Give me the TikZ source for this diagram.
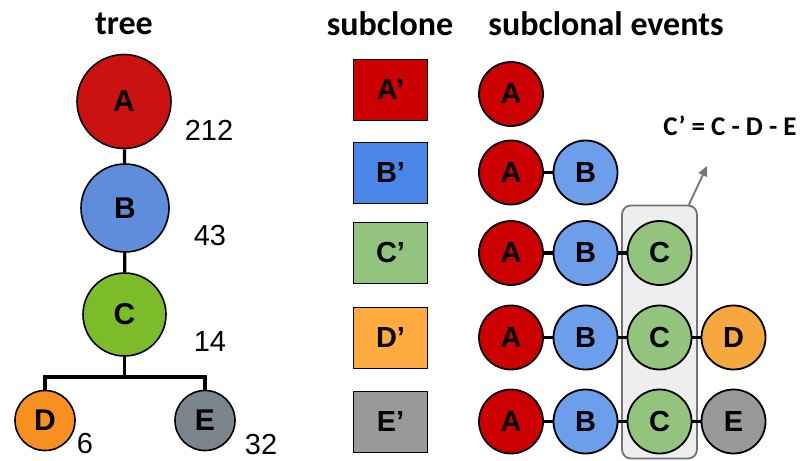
\documentclass[tikz,border=0pt]{standalone}
\usepackage{fontspec}
\setmainfont{Liberation Sans}
\newfontfamily\titlefont{Carlito}
\usetikzlibrary{arrows.meta}
\definecolor{tA}{HTML}{CC1111}
\definecolor{tB}{HTML}{5E8EDB}
\definecolor{tC}{HTML}{7CBB2A}
\definecolor{tD}{HTML}{F7901E}
\definecolor{tE}{HTML}{7A858E}
\definecolor{eA}{HTML}{CC0000}
\definecolor{eB}{HTML}{6D9EEB}
\definecolor{eC}{HTML}{93C47D}
\definecolor{eD}{HTML}{F6A83F}
\definecolor{eE}{HTML}{999999}
\definecolor{sB}{HTML}{4A86E8}
\definecolor{sD}{HTML}{FFAB40}
\definecolor{boxfill}{HTML}{EEEEEE}
\definecolor{boxline}{HTML}{737373}
\begin{document}
\begin{tikzpicture}[x=1pt,y=-1pt,
  title/.style={font=\titlefont\bfseries\fontsize{34}{40}\selectfont, anchor=base},
  treenode/.style={circle, draw=black, line width=1.6pt, inner sep=0pt, font=\bfseries\fontsize{30}{34}\selectfont},
  count/.style={font=\fontsize{29}{34}\selectfont, inner sep=1pt},
  treeedge/.style={line width=3.2pt, black},
  ev/.style={circle, draw=black, line width=1.8pt, minimum size=64pt, inner sep=0pt, font=\bfseries\fontsize{29}{34}\selectfont},
  conn/.style={line width=3.6pt, black},
  sq/.style={rectangle, draw=black, line width=1.8pt, minimum width=74pt, minimum height=61pt, inner sep=0pt, font=\bfseries\fontsize{29}{34}\selectfont},
  hbox/.style={rectangle, rounded corners=9pt, draw=boxline, fill=boxfill, line width=1.8pt, minimum width=75pt, minimum height=253pt, inner sep=0pt},
  note/.style={font=\titlefont\bfseries\fontsize{27}{32}\selectfont}
]
\useasboundingbox (0,0) rectangle (802,460);
% titles
\node[title] (ttree) at (124,35) {tree};
\node[title] (tsub) at (390,36) {subclone};
\node[title] (tev) at (606,36) {subclonal events};
% tree
\node[treenode, fill=tA, minimum size=94pt] (TA) at (124,101.5) {A};
\node[treenode, fill=tB, minimum size=88pt] (TB) at (125,208) {B};
\node[treenode, fill=tC, minimum size=83pt] (TC) at (124.5,314.5) {C};
\node[treenode, fill=tD, minimum size=60pt] (TD) at (45,420.5) {D};
\node[treenode, fill=tE, minimum size=60pt] (TE) at (205,420.5) {E};
\coordinate (J) at (124.5,377);
\draw[treeedge] (TA) -- (TB);
\draw[treeedge] (TB) -- (TC);
\draw[treeedge] (TC) -- (J);
\draw[treeedge] (TD) |- (J) -| (TE);
\node[count] (n212) at (209,130) {212};
\node[count] (n43) at (210,236) {43};
\node[count] (n14) at (210,342) {14};
\node[count] (n6) at (85,444) {6};
\node[count] (n32) at (261,445) {32};
% subclone squares
\node[sq, fill=eA] (SA) at (390.5,90) {A’};
\node[sq, fill=sB] (SB) at (390.5,173) {B’};
\node[sq, fill=eC] (SC) at (390.5,253) {C’};
\node[sq, fill=sD] (SD) at (390.5,338) {D’};
\node[sq, fill=eE] (SE) at (390.5,422) {E’};
% highlight box
\node[hbox] (box) at (659.5,332) {};
\coordinate (tip) at (707,166);
\draw[boxline, line width=1.8pt, -{Triangle[length=10pt,width=9pt]}] ([xshift=-9pt]box.north east) -- (tip);
\node[note] (eq) at (730,126) {C’ = C - D - E};
% events
\node[ev, fill=eA] (r1a) at (511,94) {A};
\node[ev, fill=eA] (r2a) at (511,172.5) {A};
\node[ev, fill=eB] (r2b) at (585.5,172.5) {B};
\node[ev, fill=eA] (r3a) at (511,253) {A};
\node[ev, fill=eB] (r3b) at (585.5,253) {B};
\node[ev, fill=eC] (r3c) at (659.5,253) {C};
\node[ev, fill=eA] (r4a) at (511,337.5) {A};
\node[ev, fill=eB] (r4b) at (585.5,337.5) {B};
\node[ev, fill=eC] (r4c) at (659.5,337.5) {C};
\node[ev, fill=eD] (r4d) at (733.5,337.5) {D};
\node[ev, fill=eA] (r5a) at (511,421.5) {A};
\node[ev, fill=eB] (r5b) at (585.5,421.5) {B};
\node[ev, fill=eC] (r5c) at (659.5,421.5) {C};
\node[ev, fill=eE] (r5e) at (733.5,421.5) {E};
\draw[conn] (r2a) -- (r2b);
\draw[conn] (r3a) -- (r3b);
\draw[conn] (r3b) -- (r3c);
\draw[conn] (r4a) -- (r4b);
\draw[conn] (r4b) -- (r4c);
\draw[conn] (r4c) -- (r4d);
\draw[conn] (r5a) -- (r5b);
\draw[conn] (r5b) -- (r5c);
\draw[conn] (r5c) -- (r5e);
\end{tikzpicture}
\end{document}
